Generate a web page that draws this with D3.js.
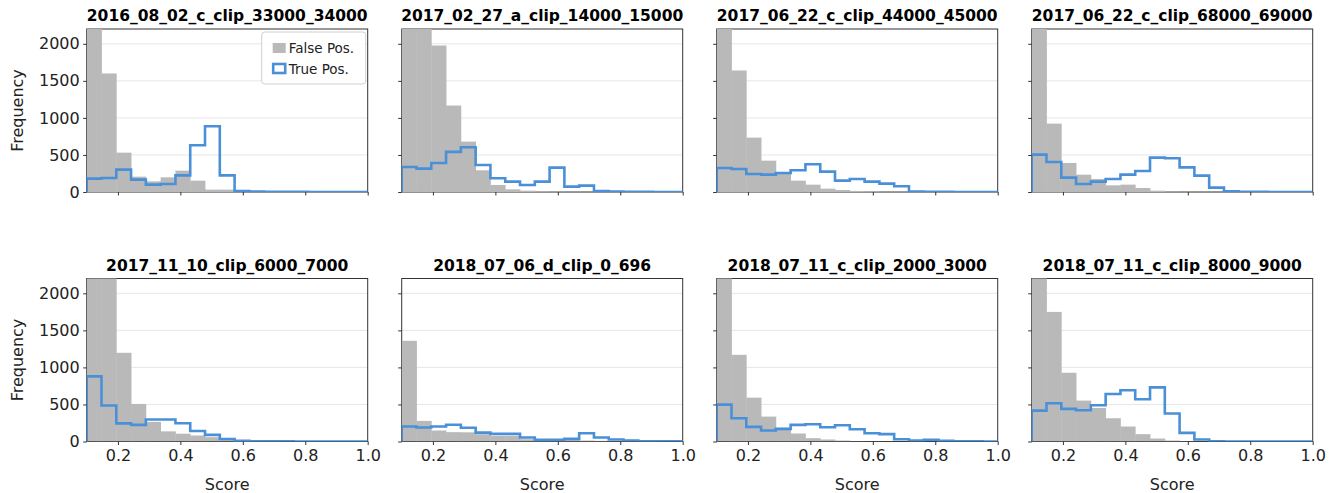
<!DOCTYPE html>
<html>
<head>
<meta charset="utf-8">
<script src="https://cdn.jsdelivr.net/npm/d3@7"></script>
<style>
    body { margin: 0; background: #fff; }
    text { font-family: "DejaVu Sans", sans-serif; }
</style>
</head>
<body>
<svg id="chart" width="1335" height="493"></svg>
<script>
// clip names, one per panel
const titles = [
    "2016_08_02_c_clip_33000_34000", "2017_02_27_a_clip_14000_15000",
    "2017_06_22_c_clip_44000_45000", "2017_06_22_c_clip_68000_69000",
    "2017_11_10_clip_6000_7000", "2018_07_06_d_clip_0_696",
    "2018_07_11_c_clip_2000_3000", "2018_07_11_c_clip_8000_9000"
];

// histogram counts, 19 bins from 0.1 to 1.0
const falsePos1 = [3000, 1600, 531, 207, 144, 198, 288, 153, 32, 32, 9, 4, 3, 2, 1, 1, 1, 0, 0];
const truePos1  = [180, 189, 302, 167, 99, 108, 225, 630, 887, 225, 14, 5, 3, 2, 2, 1, 1, 1, 0];
const falsePos2 = [3200, 2500, 1977, 1167, 680, 293, 95, 36, 18, 9, 5, 3, 2, 1, 1, 0, 0, 0, 0];
const truePos2  = [338, 315, 392, 541, 604, 365, 185, 140, 95, 140, 329, 72, 86, 14, 5, 3, 2, 1, 1];
const falsePos3 = [3000, 1640, 734, 423, 248, 153, 99, 45, 27, 14, 9, 4, 3, 2, 1, 1, 0, 0, 0];
const truePos3  = [324, 311, 243, 234, 257, 293, 374, 275, 153, 176, 140, 113, 77, 5, 3, 2, 1, 1, 1];
const falsePos4 = [2900, 923, 392, 234, 176, 90, 99, 54, 18, 5, 3, 2, 1, 1, 0, 0, 0, 0, 0];
const truePos4  = [505, 405, 194, 108, 140, 176, 234, 284, 464, 455, 333, 221, 59, 9, 3, 2, 1, 1, 0];
const falsePos5 = [3500, 2600, 1197, 507, 265, 137, 105, 81, 58, 27, 9, 4, 2, 1, 1, 0, 0, 0, 0];
const truePos5  = [879, 486, 244, 224, 296, 296, 247, 142, 90, 34, 9, 4, 3, 2, 1, 1, 1, 0, 0];
const falsePos6 = [1359, 278, 148, 126, 124, 99, 76, 76, 31, 13, 18, 22, 13, 9, 5, 3, 2, 1, 0];
const truePos6  = [202, 188, 202, 226, 186, 120, 103, 103, 54, 22, 22, 36, 112, 54, 27, 13, 4, 3, 2];
const falsePos7 = [3000, 1170, 592, 336, 184, 108, 45, 27, 13, 5, 3, 2, 1, 1, 0, 0, 0, 0, 0];
const truePos7  = [498, 314, 197, 148, 170, 224, 233, 193, 220, 166, 112, 99, 31, 13, 22, 9, 4, 2, 1];
const falsePos8 = [2900, 1749, 928, 552, 453, 314, 202, 99, 40, 13, 4, 2, 1, 0, 0, 0, 0, 0, 0];
const truePos8  = [417, 516, 440, 422, 489, 641, 691, 570, 731, 377, 117, 27, 2, 1, 0, 0, 0, 0, 0];

const yTicks = [0, 500, 1000, 1500, 2000];
const xTicks = [0.2, 0.4, 0.6, 0.8, 1.0];
const scoreMin = 0.1, scoreMax = 1.0, nBins = 19;

const falsePos = [falsePos1, falsePos2, falsePos3, falsePos4, falsePos5, falsePos6, falsePos7, falsePos8];
const truePos = [truePos1, truePos2, truePos3, truePos4, truePos5, truePos6, truePos7, truePos8];

const svg = d3.select("#chart");
const W = 281, H = 163;
const lefts = [86.7, 401.7, 716.7, 1031.7];
const tops = [29, 278.5];
const gray = "#b9b9b9", blue = "#4a90d9";

const x = d3.scaleLinear().domain([scoreMin, scoreMax]).range([0, W]);
const y = d3.scaleLinear().domain([0, 2200]).range([H, 0]);
const edges = d3.range(nBins + 1).map(i => scoreMin + i * (scoreMax - scoreMin) / nBins);

const defs = svg.append("defs");

titles.forEach((title, i) => {
    let col = i % 4, row = Math.floor(i / 4);
    let g = svg.append("g").attr("transform", `translate(${lefts[col]},${tops[row]})`);

    defs.append("clipPath").attr("id", "clip" + i)
        .append("rect").attr("width", W).attr("height", H);

    // grid
    g.selectAll(".grid").data(yTicks).enter().append("line")
        .attr("x1", 0).attr("x2", W)
        .attr("y1", d => y(d)).attr("y2", d => y(d))
        .attr("stroke", "#e6e6e6").attr("stroke-width", 1);

    // frame (bars are drawn over it)
    g.append("rect").attr("width", W).attr("height", H)
        .attr("fill", "none").attr("stroke", "#333").attr("stroke-width", 1);

    let area = g.append("g").attr("clip-path", `url(#clip${i})`);

    area.selectAll(".fp").data(falsePos[i]).enter().append("rect")
        .attr("class", "fp")
        .attr("x", (d, j) => x(edges[j]))
        .attr("width", (d, j) => x(edges[j + 1]) - x(edges[j]) + 0.4)
        .attr("y", d => y(d))
        .attr("height", d => y(0) - y(d))
        .attr("fill", gray);

    let pts = [[edges[0], 0]];
    truePos[i].forEach((v, j) => {
        pts.push([edges[j], v]);
        pts.push([edges[j + 1], v]);
    });
    pts.push([edges[nBins], 0]);
    area.append("path")
        .attr("d", d3.line().x(d => x(d[0])).y(d => y(d[1]))(pts))
        .attr("fill", "none").attr("stroke", blue).attr("stroke-width", 2.6)
        .attr("stroke-linejoin", "miter");

    // axes
    let yAxis = d3.axisLeft(y).tickValues(yTicks).tickSize(3.5).tickPadding(3.5)
        .tickFormat(d3.format("d"));
    if (col > 0) yAxis.tickFormat("");
    let ya = g.append("g").call(yAxis);
    let xAxis = d3.axisBottom(x).tickValues(xTicks).tickSize(3.5).tickPadding(5)
        .tickFormat(d3.format(".1f"));
    if (row === 0) xAxis.tickFormat("");
    let xa = g.append("g").attr("transform", `translate(0,${H})`).call(xAxis);
    [ya, xa].forEach(a => {
        a.select(".domain").remove();
        a.selectAll(".tick line").attr("stroke", "#333");
        a.selectAll(".tick text").attr("fill", "#222")
            .style("font-size", "16px").style("font-family", "DejaVu Sans");
    });

    g.append("text")
        .attr("x", W / 2).attr("y", -8)
        .attr("text-anchor", "middle")
        .style("font-size", "15.5px").style("font-weight", "bold")
        .text(title);

    if (col === 0) {
        g.append("text")
            .attr("transform", `translate(${-lefts[0] + 23},${H / 2}) rotate(-90)`)
            .attr("text-anchor", "middle")
            .style("font-size", "16px").attr("fill", "#222")
            .text("Frequency");
    }
    if (row === 1) {
        g.append("text")
            .attr("x", W / 2).attr("y", H + 48)
            .attr("text-anchor", "middle")
            .style("font-size", "16px").attr("fill", "#222")
            .text("Score");
    }

    // legend, first panel only
    if (i === 0) {
        let lg = g.append("g").attr("transform", `translate(${W - 106},3)`);
        lg.append("rect").attr("width", 104).attr("height", 52).attr("rx", 3)
            .attr("fill", "#fff").attr("fill-opacity", 0.85)
            .attr("stroke", "#d0d0d0");
        lg.append("rect").attr("x", 11).attr("y", 11).attr("width", 13).attr("height", 10)
            .attr("fill", gray);
        lg.append("rect").attr("x", 11.5).attr("y", 32).attr("width", 12).attr("height", 9)
            .attr("fill", "#fff").attr("stroke", blue).attr("stroke-width", 2.6);
        lg.append("text").attr("x", 27).attr("y", 21).style("font-size", "13.5px")
            .attr("fill", "#222").text("False Pos.");
        lg.append("text").attr("x", 27).attr("y", 42).style("font-size", "13.5px")
            .attr("fill", "#222").text("True Pos.");
    }
});
</script>
</body>
</html>
